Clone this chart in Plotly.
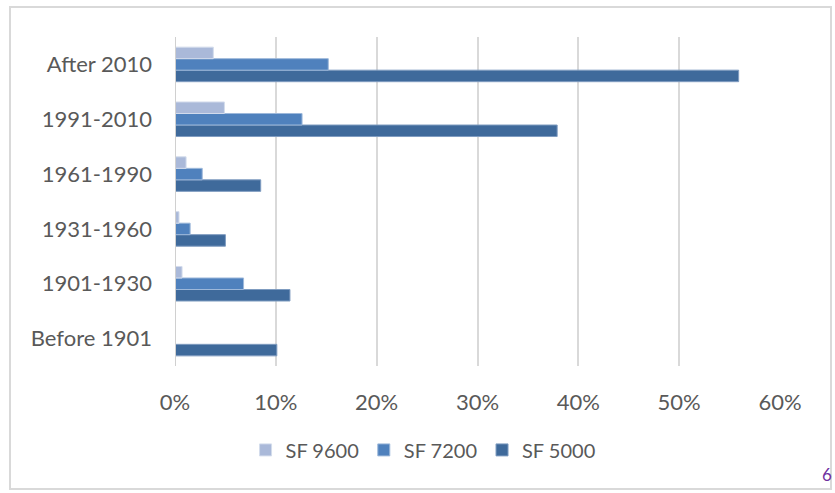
import plotly.graph_objects as go

categories = ["Before 1901", "1901-1930", "1931-1960", "1961-1990", "1991-2010", "After 2010"]
sf5000 = [0.101, 0.114, 0.050, 0.085, 0.379, 0.559]
sf7200 = [0.0, 0.068, 0.015, 0.027, 0.126, 0.152]
sf9600 = [0.0, 0.007, 0.004, 0.011, 0.049, 0.038]
x_ticks = [0, 0.1, 0.2, 0.3, 0.4, 0.5, 0.6]
x_tick_text = ["0%", "10%", "20%", "30%", "40%", "50%", "60%"]

FONT = "Lato, 'Open Sans', sans-serif"
GRAY = "#595959"

fig = go.Figure()
series = [
    ("SF 5000", sf5000, "#3F6A9B", "#7F9CC0"),
    ("SF 7200", sf7200, "#4F81BD", "#9DB8DA"),
    ("SF 9600", sf9600, "#AAB9D9", "#D3DCEC"),
]
for name, vals, col, edge in series:
    fig.add_trace(go.Bar(
        y=categories, x=vals, name=name, orientation="h",
        marker=dict(color=col, line=dict(color=edge, width=1)),
    ))

fig.update_layout(
    width=835, height=493,
    margin=dict(l=175, r=55, t=37, b=127),
    paper_bgcolor="white", plot_bgcolor="white",
    barmode="group", bargap=0.37, bargroupgap=0,
    font=dict(family=FONT, color=GRAY, size=22),
    showlegend=True,
    legend=dict(orientation="h", traceorder="reversed",
                x=0.41, xanchor="center", y=-0.255, yanchor="middle",
                font=dict(size=20, color=GRAY, family=FONT)),
    xaxis=dict(range=[0, 0.6], tickvals=x_ticks, ticktext=x_tick_text,
               showgrid=True, gridcolor="#D9D9D9", gridwidth=2,
               zeroline=False, showline=False, ticks="",
               ticklabelstandoff=21, tickfont=dict(size=22, color=GRAY)),
    yaxis=dict(categoryorder="array", categoryarray=categories,
               showgrid=False, zeroline=False, showline=False, ticks="",
               ticklabelstandoff=22, tickfont=dict(size=22, color=GRAY)),
    shapes=[
        dict(type="line", xref="x", yref="paper", x0=0, x1=0, y0=0, y1=1,
             line=dict(color="#D0D0D0", width=2)),
        dict(type="rect", xref="paper", yref="paper",
             x0=-0.2727, x1=1.0843, y0=-0.3739, y1=1.0912,
             line=dict(color="#D9D9D9", width=2)),
    ],
    annotations=[
        dict(text="6", xref="paper", yref="paper", x=1.0893, y=-0.33,
             xanchor="right", yanchor="middle", showarrow=False,
             font=dict(size=17, color="#7030A0", family=FONT)),
    ],
)

fig.write_html("out.html")
